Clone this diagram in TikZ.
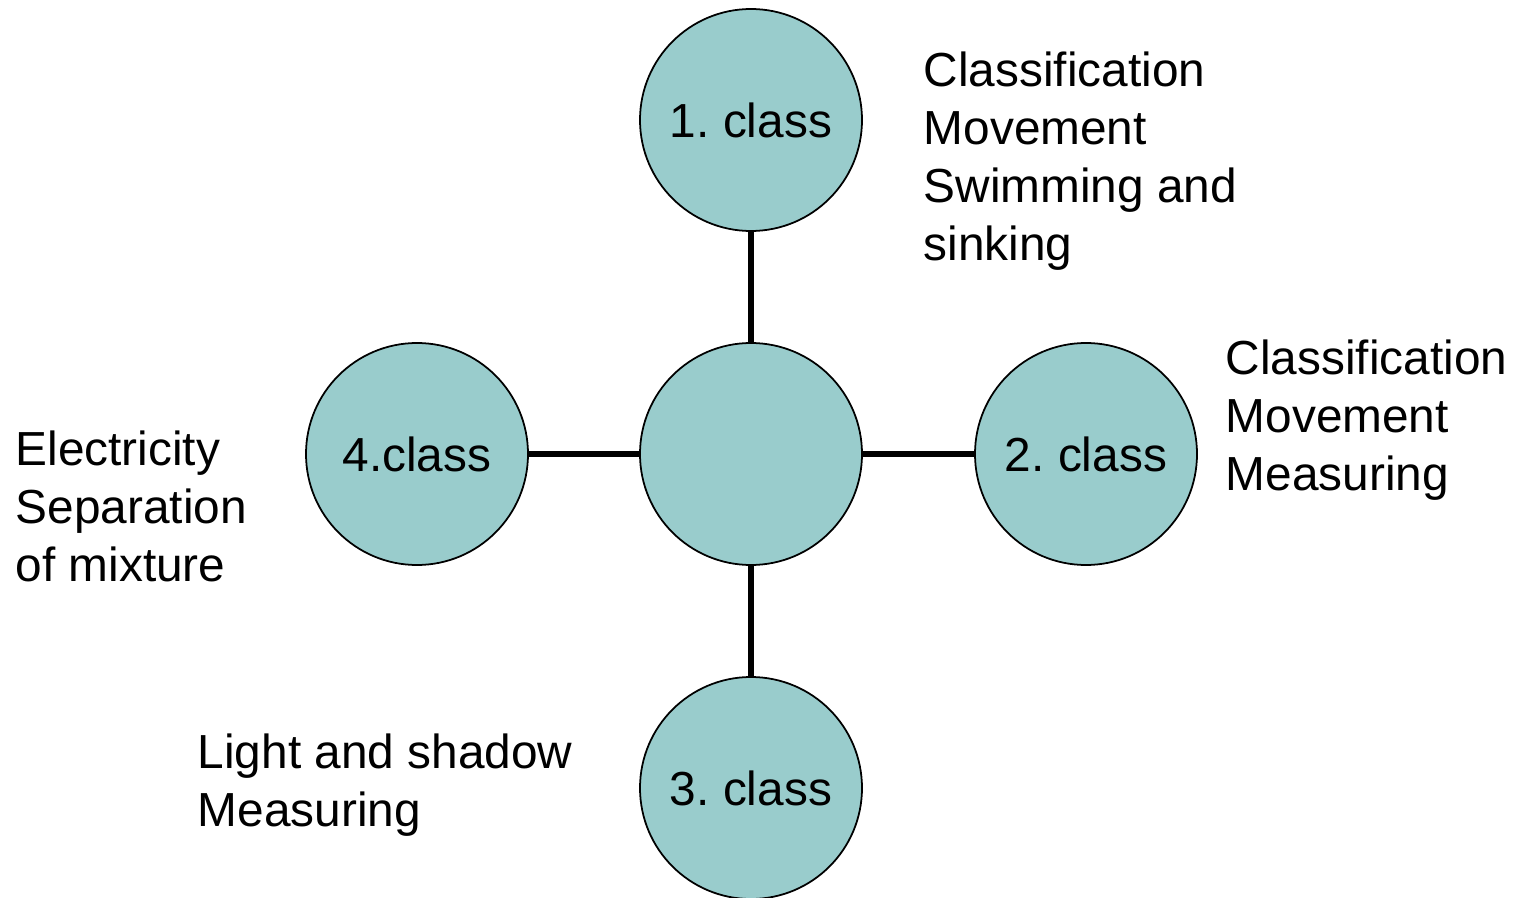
\documentclass[tikz,border=0pt]{standalone}
\usepackage{fontspec}
\setmainfont{Liberation Sans}
\frenchspacing
\usetikzlibrary{positioning}
\definecolor{circfill}{RGB}{153,204,204}
\tikzset{
  klasse/.style={circle, draw=black, line width=0.5pt, fill=circfill, minimum size=2.22cm, inner sep=0pt, font=\fontsize{13.6}{16.5}\selectfont},
  link/.style={line width=1.6pt},
  topics/.style={anchor=north west, inner sep=0pt, align=left, font=\fontsize{13.6}{16.5}\selectfont}
}

\begin{document}
\begin{tikzpicture}
\useasboundingbox (0,0) rectangle (15.15,8.97);

%circles
\node[klasse] (mid) at (7.51,4.43) {};
\node[klasse] (c1) at (7.51,7.77) {1. class};
\node[klasse] (c2) at (10.86,4.43) {2. class};
\node[klasse] (c3) at (7.51,1.09) {3. class};
\node[klasse] (c4) at (4.17,4.43) {4.class};

%links
\draw[link] (mid) -- (c1);
\draw[link] (mid) -- (c2);
\draw[link] (mid) -- (c3);
\draw[link] (mid) -- (c4);

%topics
\node[topics] (t1) at (9.23,8.46) {Classification\\Movement\\Swimming and\\sinking};
\node[topics] (t2) at (12.25,5.58) {Classification\\Movement\\Measuring};
\node[topics] (t3) at (1.97,1.64) {Light and shadow\\Measuring};
\node[topics] (t4) at (0.15,4.67) {Electricity\\Separation\\of mixture};

\end{tikzpicture}
\end{document}
